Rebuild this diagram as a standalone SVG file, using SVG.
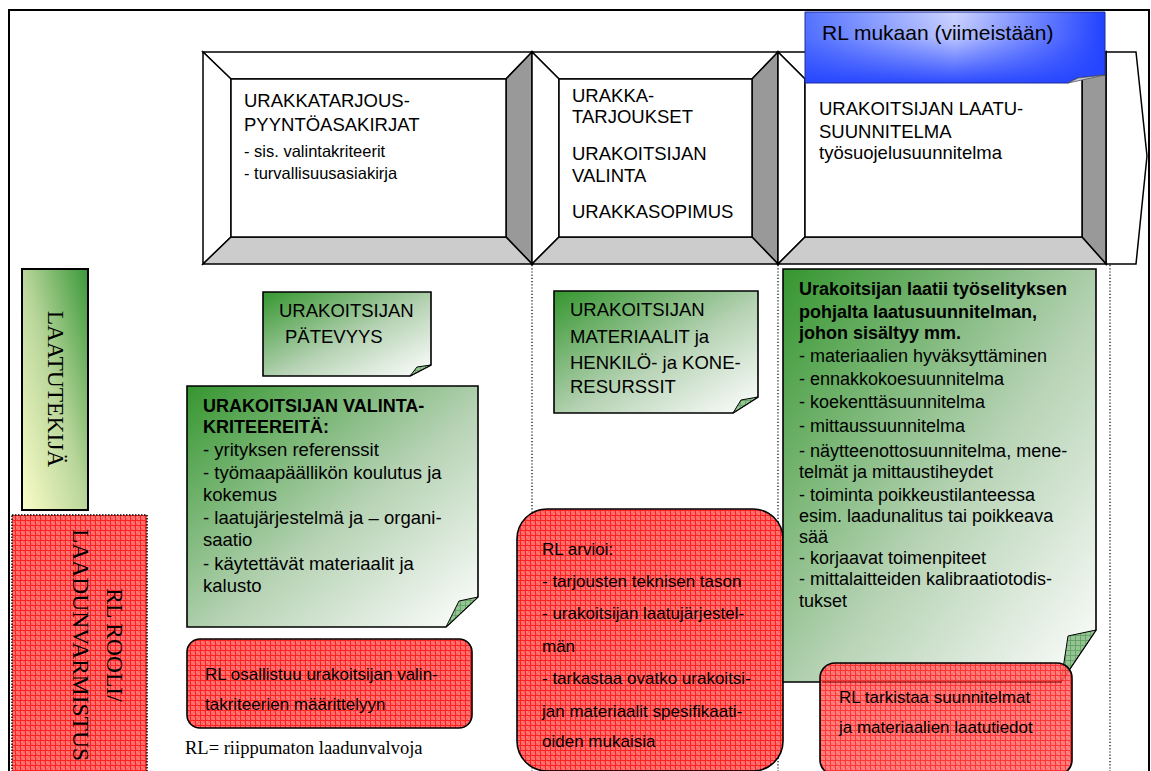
<svg xmlns="http://www.w3.org/2000/svg" width="1151" height="771" viewBox="0 0 1151 771">
<defs>
<style>
.sans{font-family:"Liberation Sans",Arial,sans-serif;fill:#000}
.serif{font-family:"Liberation Serif","Times New Roman",serif;fill:#000}
.b{font-weight:bold}
.ol{stroke:#000;stroke-width:1.5;stroke-linejoin:miter}
.wh{fill:#fff}
.dk{fill:#999}
.lt{fill:#ccc}
.note{fill:url(#gN);stroke:#000;stroke-width:1.6}
.fold{fill:url(#foldp);stroke:#000;stroke-width:1}
.red{fill:url(#redp);stroke:#000;stroke-width:1.6}
.dot{stroke:#000;stroke-width:1.2;stroke-dasharray:1.2 2;fill:none}
</style>
<linearGradient id="gN" x1="0" y1="0" x2="1" y2="1">
<stop offset="0" stop-color="#35962f"/>
<stop offset="0.55" stop-color="#b7d3b5"/>
<stop offset="1" stop-color="#ffffff"/>
</linearGradient>
<linearGradient id="gY" x1="1" y1="0" x2="0" y2="1">
<stop offset="0" stop-color="#3a983a"/>
<stop offset="0.5" stop-color="#b9d69a"/>
<stop offset="1" stop-color="#fbfdc8"/>
</linearGradient>
<linearGradient id="gBh" x1="0" y1="0" x2="1" y2="0">
<stop offset="0" stop-color="#5573ff"/>
<stop offset="0.5" stop-color="#cdd4ff"/>
<stop offset="1" stop-color="#2142ff"/>
</linearGradient>
<linearGradient id="gBv" x1="0" y1="0" x2="0" y2="1">
<stop offset="0" stop-color="#2444ff" stop-opacity="0"/>
<stop offset="0.35" stop-color="#2444ff" stop-opacity="0.1"/>
<stop offset="1" stop-color="#2444ff" stop-opacity="0.95"/>
</linearGradient>
<pattern id="redp" width="5" height="5" patternUnits="userSpaceOnUse">
<rect width="5" height="5" fill="#ff6a6a"/>
<rect x="1.5" y="1.5" width="1" height="1" fill="#ffa0a0"/>
<rect x="3.5" y="3.5" width="1" height="1" fill="#ffa0a0"/>
<rect x="3.5" y="1.5" width="1" height="1" fill="#ff4040"/>
<rect x="1.5" y="3.5" width="1" height="1" fill="#ff4040"/>
<path d="M0 0.5H5M0.5 0V5" stroke="#ff2020" stroke-width="1"/>
</pattern>
<pattern id="foldp" width="5" height="5" patternUnits="userSpaceOnUse">
<rect width="5" height="5" fill="#94c494"/>
<path d="M0 0.5H5M0.5 0V5" stroke="#5e9c5e" stroke-width="0.8"/>
</pattern>
</defs>

<rect id="frame" x="9" y="10" width="1140" height="775" fill="#fff" stroke="#000" stroke-width="2"/>

<g id="step1">
<polygon class="ol wh" points="203,52 532,52 506,79 231,79"/>
<polygon class="ol wh" points="203,52 231,79 231,237 203,264"/>
<polygon class="ol dk" points="532,52 532,264 506,237 506,79"/>
<polygon class="ol lt" points="203,264 532,264 506,237 231,237"/>
<rect class="ol wh" x="231" y="79" width="275" height="158"/>
<text class="sans" font-size="18.5" x="244" y="107">URAKKATARJOUS-</text>
<text class="sans" font-size="18.5" x="244" y="131">PYYNTÖASAKIRJAT</text>
<text class="sans" font-size="16.5" x="244" y="157">- sis. valintakriteerit</text>
<text class="sans" font-size="16.5" x="244" y="179">- turvallisuusasiakirja</text>
</g>

<g id="step2">
<polygon class="ol wh" points="532,52 778,52 752,79 559,79"/>
<polygon class="ol wh" points="532,52 559,79 559,237 532,264"/>
<polygon class="ol dk" points="778,52 778,264 752,237 752,79"/>
<polygon class="ol lt" points="532,264 778,264 752,237 559,237"/>
<rect class="ol wh" x="559" y="79" width="193" height="158"/>
<text class="sans" font-size="18.5" x="572" y="102">URAKKA-</text>
<text class="sans" font-size="18.5" x="572" y="123">TARJOUKSET</text>
<text class="sans" font-size="18.5" x="572" y="160">URAKOITSIJAN</text>
<text class="sans" font-size="18.5" x="572" y="182">VALINTA</text>
<text class="sans" font-size="18.5" x="572" y="218">URAKKASOPIMUS</text>
</g>

<g id="step3">
<polygon class="ol wh" points="1106,52 1136,52 1147,156 1136,264 1106,264"/>
<polygon class="ol wh" points="778,52 1106,52 1082,79 805,79"/>
<polygon class="ol wh" points="778,52 805,79 805,237 778,264"/>
<polygon class="ol dk" points="1106,52 1106,264 1082,237 1082,79"/>
<polygon class="ol lt" points="778,264 1106,264 1082,237 805,237"/>
<rect class="ol wh" x="805" y="79" width="277" height="158"/>
<text class="sans" font-size="18.5" x="819" y="115">URAKOITSIJAN LAATU-</text>
<text class="sans" font-size="18.5" x="819" y="138">SUUNNITELMA</text>
<text class="sans" font-size="18.5" x="819" y="159">työsuojelusuunnitelma</text>
</g>

<g id="rl-mukaan">
<path d="M805,12 H1105 V75 L1077,78 L1068,83 H805 Z" fill="url(#gBh)"/>
<path d="M805,12 H1105 V75 L1077,78 L1068,83 H805 Z" fill="url(#gBv)" stroke="#1c2f9c" stroke-width="1"/>
<polygon points="1105,75 1078,78 1068,83" fill="#c9cbe0" stroke="#555" stroke-width="0.8"/>
<text class="sans" font-size="21" x="822" y="40">RL mukaan (viimeistään)</text>
</g>

<g id="separators">
<line class="dot" x1="532" y1="265" x2="532" y2="771"/>
<line class="dot" x1="778" y1="265" x2="778" y2="771"/>
<line class="dot" x1="1110" y1="265" x2="1110" y2="771"/>
</g>

<g id="laatutekija">
<rect x="22" y="269" width="66" height="241" fill="url(#gY)" stroke="#000" stroke-width="2"/>
<text class="serif" font-size="23.5" text-anchor="middle" transform="translate(48,389) rotate(90)">LAATUTEKIJÄ</text>
</g>

<g id="rl-rooli">
<rect x="12" y="515" width="135" height="262" fill="url(#redp)" stroke="#000" stroke-width="1.5" stroke-dasharray="1.5 1.5"/>
<text class="serif" font-size="23.5" text-anchor="middle" transform="translate(107,645) rotate(90)">RL ROOLI/<tspan x="0" dy="34">LAADUNVARMISTUS</tspan></text>
</g>

<g id="patevyys">
<path class="note" d="M263,292 H431 V365 L410,376 H263 Z"/>
<polygon class="fold" points="431,365 417,367 410,376"/>
<text class="sans" font-size="18.5" x="279" y="317">URAKOITSIJAN</text>
<text class="sans" font-size="18.5" x="285" y="343">PÄTEVYYS</text>
</g>

<g id="valintakriteerit">
<path class="note" d="M187,386 H478 V597 L446,627 H187 Z"/>
<polygon class="fold" points="478,597 459,601 446,627"/>
<text class="sans b" font-size="18" x="203" y="412">URAKOITSIJAN VALINTA-</text>
<text class="sans b" font-size="18" x="203" y="433">KRITEEREITÄ:</text>
<text class="sans" font-size="18.5" x="203" y="456">- yrityksen referenssit</text>
<text class="sans" font-size="18.5" x="203" y="479">- työmaapäällikön koulutus ja</text>
<text class="sans" font-size="18.5" x="203" y="501">kokemus</text>
<text class="sans" font-size="18.5" x="203" y="524">- laatujärjestelmä ja – organi-</text>
<text class="sans" font-size="18.5" x="203" y="546">saatio</text>
<text class="sans" font-size="18.5" x="203" y="570">- käytettävät materiaalit ja</text>
<text class="sans" font-size="18.5" x="203" y="592">kalusto</text>
</g>

<g id="rl-osallistuu">
<rect class="red" x="187" y="639" width="285" height="89" rx="13"/>
<text class="sans" font-size="17" x="205" y="680">RL osallistuu urakoitsijan valin-</text>
<text class="sans" font-size="17" x="205" y="710">takriteerien määrittelyyn</text>
</g>

<text id="legend" class="serif" font-size="18.5" x="185" y="754">RL= riippumaton laadunvalvoja</text>

<g id="materiaalit">
<path class="note" d="M554,291 H758 V397 L733,413 H554 Z"/>
<polygon class="fold" points="758,397 741,400 733,413"/>
<text class="sans" font-size="18.5" x="570" y="316">URAKOITSIJAN</text>
<text class="sans" font-size="18.5" x="570" y="343">MATERIAALIT ja</text>
<text class="sans" font-size="18.5" x="570" y="369">HENKILÖ- ja KONE-</text>
<text class="sans" font-size="18.5" x="570" y="393">RESURSSIT</text>
</g>

<g id="rl-arvioi">
<rect class="red" x="517" y="509" width="266" height="262" rx="30"/>
<text class="sans" font-size="17" x="542" y="555">RL arvioi:</text>
<text class="sans" font-size="17" x="542" y="587">- tarjousten teknisen tason</text>
<text class="sans" font-size="17" x="542" y="619">- urakoitsijan laatujärjestel-</text>
<text class="sans" font-size="17" x="542" y="652">män</text>
<text class="sans" font-size="17" x="542" y="684">- tarkastaa ovatko urakoitsi-</text>
<text class="sans" font-size="17" x="542" y="717">jan materiaalit spesifikaati-</text>
<text class="sans" font-size="17" x="542" y="747">oiden mukaisia</text>
</g>

<g id="laatusuunnitelma">
<path class="note" d="M783,269 H1096 V630 L1061,682 H783 Z"/>
<polygon class="fold" points="1096,630 1068,636 1061,682"/>
<text class="sans b" font-size="18" x="799" y="295">Urakoitsijan laatii työselityksen</text>
<text class="sans b" font-size="18" x="799" y="318">pohjalta laatusuunnitelman,</text>
<text class="sans b" font-size="18" x="799" y="339">johon sisältyy mm.</text>
<text class="sans" font-size="18" x="799" y="362">- materiaalien hyväksyttäminen</text>
<text class="sans" font-size="18" x="799" y="385">- ennakkokoesuunnitelma</text>
<text class="sans" font-size="18" x="799" y="408">- koekenttäsuunnitelma</text>
<text class="sans" font-size="18" x="799" y="432">- mittaussuunnitelma</text>
<text class="sans" font-size="18" x="799" y="457">- näytteenottosuunnitelma, mene-</text>
<text class="sans" font-size="18" x="799" y="478">telmät ja mittaustiheydet</text>
<text class="sans" font-size="18" x="799" y="501">- toiminta poikkeustilanteessa</text>
<text class="sans" font-size="18" x="799" y="522">esim. laadunalitus tai poikkeava</text>
<text class="sans" font-size="18" x="799" y="543">sää</text>
<text class="sans" font-size="18" x="799" y="564">- korjaavat toimenpiteet</text>
<text class="sans" font-size="18" x="799" y="585">- mittalaitteiden kalibraatiotodis-</text>
<text class="sans" font-size="18" x="799" y="607">tukset</text>
</g>

<g id="rl-tarkistaa">
<rect class="red" x="820" y="663" width="252" height="112" rx="15" fill-opacity="0.9"/>
<line x1="822" y1="682" x2="1062" y2="682" stroke="#8a1010" stroke-width="1.4" opacity="0.7"/>
<text class="sans" font-size="17" x="839" y="703">RL tarkistaa suunnitelmat</text>
<text class="sans" font-size="17" x="839" y="733">ja materiaalien laatutiedot</text>
</g>
</svg>
